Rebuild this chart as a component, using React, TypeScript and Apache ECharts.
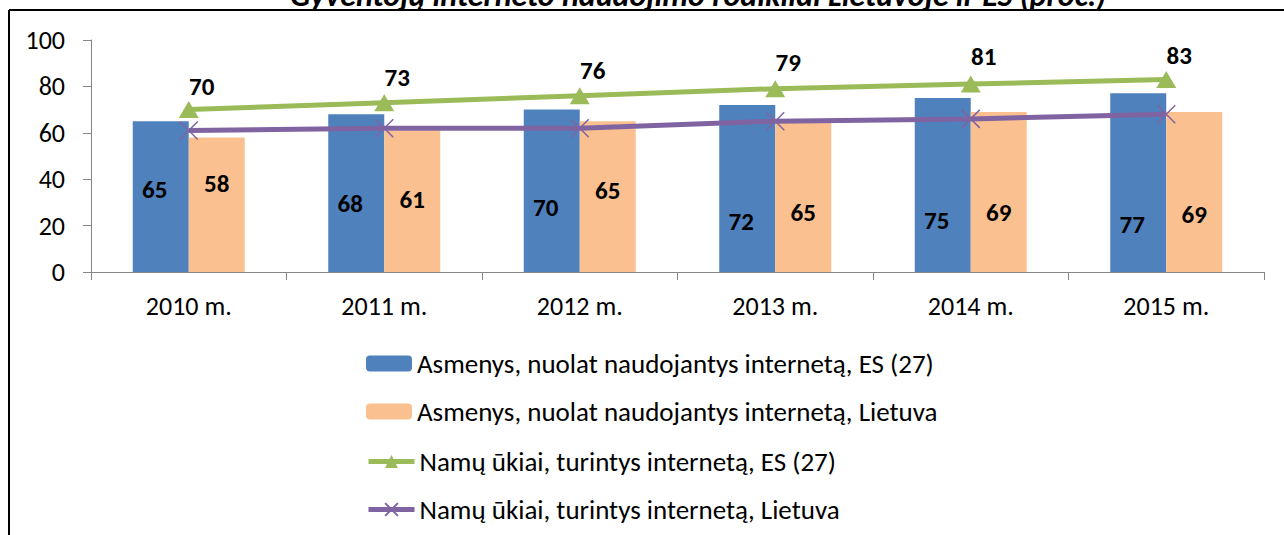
import React, { useEffect, useRef } from "react";
import * as echarts from "echarts";

const categories = ["2010 m.", "2011 m.", "2012 m.", "2013 m.", "2014 m.", "2015 m."];
const personsEU = [65, 68, 70, 72, 75, 77];
const personsLT = [58, 61, 65, 65, 69, 69];
const householdsEU = [70, 73, 76, 79, 81, 83];
const householdsLT = [61, 62, 62, 65, 66, 68];
const seriesNames = [
  "Asmenys, nuolat naudojantys internetą, ES (27)",
  "Asmenys, nuolat naudojantys internetą, Lietuva",
  "Namų ūkiai, turintys internetą, ES (27)",
  "Namų ūkiai, turintys internetą, Lietuva",
];
const titleText = "Gyventojų interneto naudojimo rodikliai Lietuvoje ir ES (proc.)";

// label nudges (pixels) replicating manually placed labels
const blueLabelNudge = [-7, 10, 17, 33, 35, 42];
const orangeLabelNudge = [-21, -2, -6, 16, 21, 23];
const greenLabelNudge = [3, 1, 1, 0, -2, 2];

const FONT = "Carlito, Calibri, Lato, sans-serif";

export default function App() {
  const ref = useRef<HTMLDivElement>(null);
  useEffect(() => {
    const chart = echarts.init(ref.current!, null, { renderer: "svg" });
    const withNudge = (nudges: number[], dx: number) => (v: number, i: number) => ({
      value: v,
      label: { offset: [dx, nudges[i]] },
    });
    const labelFont = { fontSize: 25, fontWeight: "bold", color: "#000", fontFamily: FONT };
    const legendTops = [350, 398, 448, 496];
    const legends = seriesNames.map((name, i) => ({
      orient: "vertical",
      left: 366,
      top: legendTops[i],
      padding: 0,
      itemWidth: 46,
      itemHeight: 16,
      textStyle: { fontSize: 27, color: "#000", fontFamily: FONT },
      data: [i >= 2 ? { name, lineStyle: { width: 5 } } : { name }],
    }));
    chart.setOption({
      animation: false,
      textStyle: { fontFamily: FONT },
      graphic: [
        {
          type: "text",
          left: 290,
          top: -21,
          style: {
            text: titleText,
            font: `italic bold 32px ${FONT}`,
            fill: "#000",
          },
        },
        { type: "line", shape: { x1: 9, y1: 10, x2: 1284, y2: 10 }, style: { stroke: "#000", lineWidth: 2 } },
        { type: "line", shape: { x1: 9, y1: 10, x2: 9, y2: 535 }, style: { stroke: "#000", lineWidth: 2 } },
      ],
      grid: { left: 91, right: 20, top: 40, bottom: 263, containLabel: false },
      legend: legends,
      xAxis: {
        type: "category",
        data: categories,
        axisLine: { lineStyle: { color: "#868686", width: 1 } },
        axisTick: { show: true, length: 8, lineStyle: { color: "#868686" } },
        axisLabel: { fontSize: 26, color: "#000", margin: 21, fontFamily: FONT },
      },
      yAxis: {
        type: "value",
        min: 0,
        max: 100,
        interval: 20,
        splitLine: { show: false },
        axisLine: { show: true, lineStyle: { color: "#868686", width: 1 } },
        axisTick: { show: true, length: 8, lineStyle: { color: "#868686" } },
        axisLabel: { fontSize: 26, color: "#000", margin: 26, fontFamily: FONT },
      },
      series: [
        {
          name: seriesNames[0],
          type: "bar",
          barWidth: 56,
          barGap: "0%",
          itemStyle: { color: "#4F81BD" },
          label: { show: true, position: "inside", ...labelFont },
          data: personsEU.map(withNudge(blueLabelNudge, -6)),
        },
        {
          name: seriesNames[1],
          type: "bar",
          barWidth: 56,
          barGap: "0%",
          itemStyle: { color: "#FAC090" },
          label: { show: true, position: "inside", ...labelFont },
          data: personsLT.map(withNudge(orangeLabelNudge, 0)),
        },
        {
          name: seriesNames[2],
          type: "line",
          data: householdsEU.map(withNudge(greenLabelNudge, 13)),
          symbol: "triangle",
          symbolSize: [20, 17],
          lineStyle: { color: "#9BBB59", width: 5 },
          itemStyle: { color: "#9BBB59" },
          label: { show: true, position: "top", ...labelFont },
          z: 3,
        },
        {
          name: seriesNames[3],
          type: "line",
          data: householdsLT,
          symbol: "path://M0,0L10,10M10,0L0,10",
          symbolSize: 18,
          lineStyle: { color: "#8064A2", width: 5 },
          itemStyle: { color: "#8064A2", borderColor: "#8064A2", borderWidth: 1.5 },
          z: 4,
        },
      ],
    });
    return () => chart.dispose();
  }, []);
  return (
    <div
      ref={ref}
      style={{ position: "absolute", left: 0, top: 0, width: 1284, height: 535, background: "#fff" }}
    />
  );
}
